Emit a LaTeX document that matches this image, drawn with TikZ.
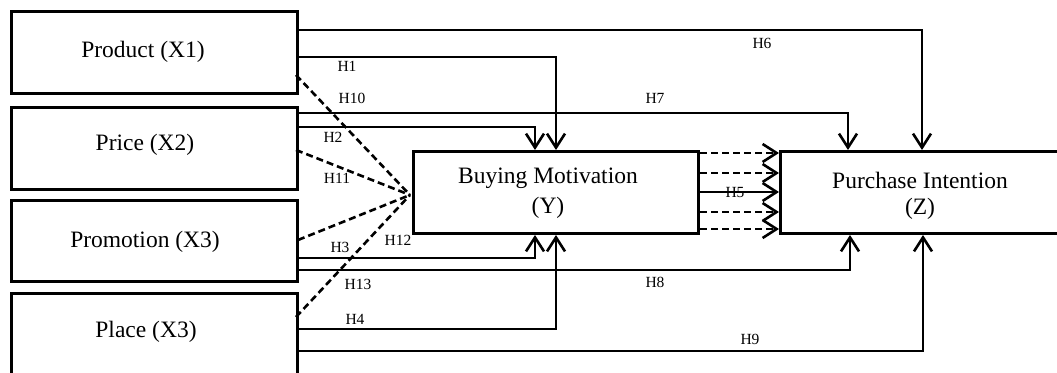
\documentclass[tikz,border=0pt]{standalone}
\usepackage{fontspec}
\setmainfont{Liberation Serif}
\usetikzlibrary{arrows.meta,positioning}
\tikzset{
  box/.style={draw, line width=3pt, inner sep=0pt, anchor=north west},
  conn/.style={line width=2.6pt},
  arr/.style={conn, -{Straight Barb[length=14pt,width=18pt]}},
  darr/.style={arr, dash pattern=on 7pt off 4pt},
  dline/.style={conn, dash pattern=on 7pt off 4pt},
  blabel/.style={font=\fontsize{23.5}{25}\selectfont},
  hlabel/.style={font=\fontsize{15.5}{17}\selectfont, inner sep=0pt}
}
\begin{document}
\begin{tikzpicture}[x=1pt,y=-1pt]
\useasboundingbox (0,0) rectangle (1057,372);
\clip (0,0) rectangle (1057,372);
\fill[white] (0,0) rectangle (1057,372);
% boxes
\node[box, minimum width=286pt, minimum height=82pt] (product) at (10,10) {};
\node[box, minimum width=286pt, minimum height=82pt] (price) at (10,106) {};
\node[box, minimum width=286pt, minimum height=81pt] (promo) at (10,199) {};
\node[box, minimum width=286pt, minimum height=90pt] (place) at (10,292) {};
\node[box, minimum width=285pt, minimum height=82pt] (bm) at (412,150) {};
\node[box, minimum width=300pt, minimum height=82pt] (pi) at (779,150) {};
% box texts
\node[blabel] (tproduct) at (143,52) {Product (X1)};
\node[blabel] (tprice) at (145,145) {Price (X2)};
\node[blabel] (tpromo) at (145,242) {Promotion (X3)};
\node[blabel] (tplace) at (146,332) {Place (X3)};
\node[blabel] (tbm1) at (548,178) {Buying Motivation};
\node[blabel] (tbm2) at (548,208) {(Y)};
\node[blabel] (tpi1) at (920,180) {Purchase Intention};
\node[blabel] (tpi2) at (920,209) {(Z)};
% bend coordinates
\coordinate (c6) at (922,30);
\coordinate (c1) at (556,57);
\coordinate (c7) at (848,113);
\coordinate (c2) at (535,127);
\coordinate (c3) at (535,258);
\coordinate (c8) at (850,270);
\coordinate (c4) at (556,329);
\coordinate (c9) at (923,351);
% solid paths
\draw[arr] (product.east |- c6) -| (pi.north -| c6);
\draw[arr] (product.east |- c1) -| (bm.north -| c1);
\draw[arr] (price.east |- c7) -| (pi.north -| c7);
\draw[arr] (price.east |- c2) -| (bm.north -| c2);
\draw[arr] (promo.east |- c3) -| (bm.south -| c3);
\draw[arr] (promo.east |- c8) -| (pi.south -| c8);
\draw[arr] (place.east |- c4) -| (bm.south -| c4);
\draw[arr] (place.east |- c9) -| (pi.south -| c9);
% dashed converging lines
\coordinate (conv) at (410,195);
\coordinate (d1) at (296,75);
\coordinate (d2) at (296,150);
\coordinate (d3) at (298,240);
\coordinate (d4) at (296,317);
\draw[dline] (d1) -- (conv);
\draw[dline] (d2) -- (conv);
\draw[dline] (d3) -- (conv);
\draw[dline] (d4) -- (conv);
% BM -> PI arrows
\coordinate (e1) at (0,153);
\coordinate (e2) at (0,173);
\coordinate (e5) at (0,192);
\coordinate (e3) at (0,212);
\coordinate (e4) at (0,229);
\draw[darr] (bm.east |- e1) -- (pi.west |- e1);
\draw[darr] (bm.east |- e2) -- (pi.west |- e2);
\draw[arr] (bm.east |- e5) -- (pi.west |- e5);
\draw[darr] (bm.east |- e3) -- (pi.west |- e3);
\draw[darr] (bm.east |- e4) -- (pi.west |- e4);
% labels
\node[hlabel] (h1) at (347,66) {H1};
\node[hlabel] (h2) at (333,137) {H2};
\node[hlabel] (h3) at (340,247) {H3};
\node[hlabel] (h4) at (355,319) {H4};
\node[hlabel] (h5) at (735,192) {H5};
\node[hlabel] (h6) at (762,43) {H6};
\node[hlabel] (h7) at (655,98) {H7};
\node[hlabel] (h8) at (655,282) {H8};
\node[hlabel] (h9) at (750,339) {H9};
\node[hlabel] (h10) at (352,98) {H10};
\node[hlabel] (h11) at (337,178) {H11};
\node[hlabel] (h12) at (398,240) {H12};
\node[hlabel] (h13) at (358,284) {H13};
\end{tikzpicture}
\end{document}
